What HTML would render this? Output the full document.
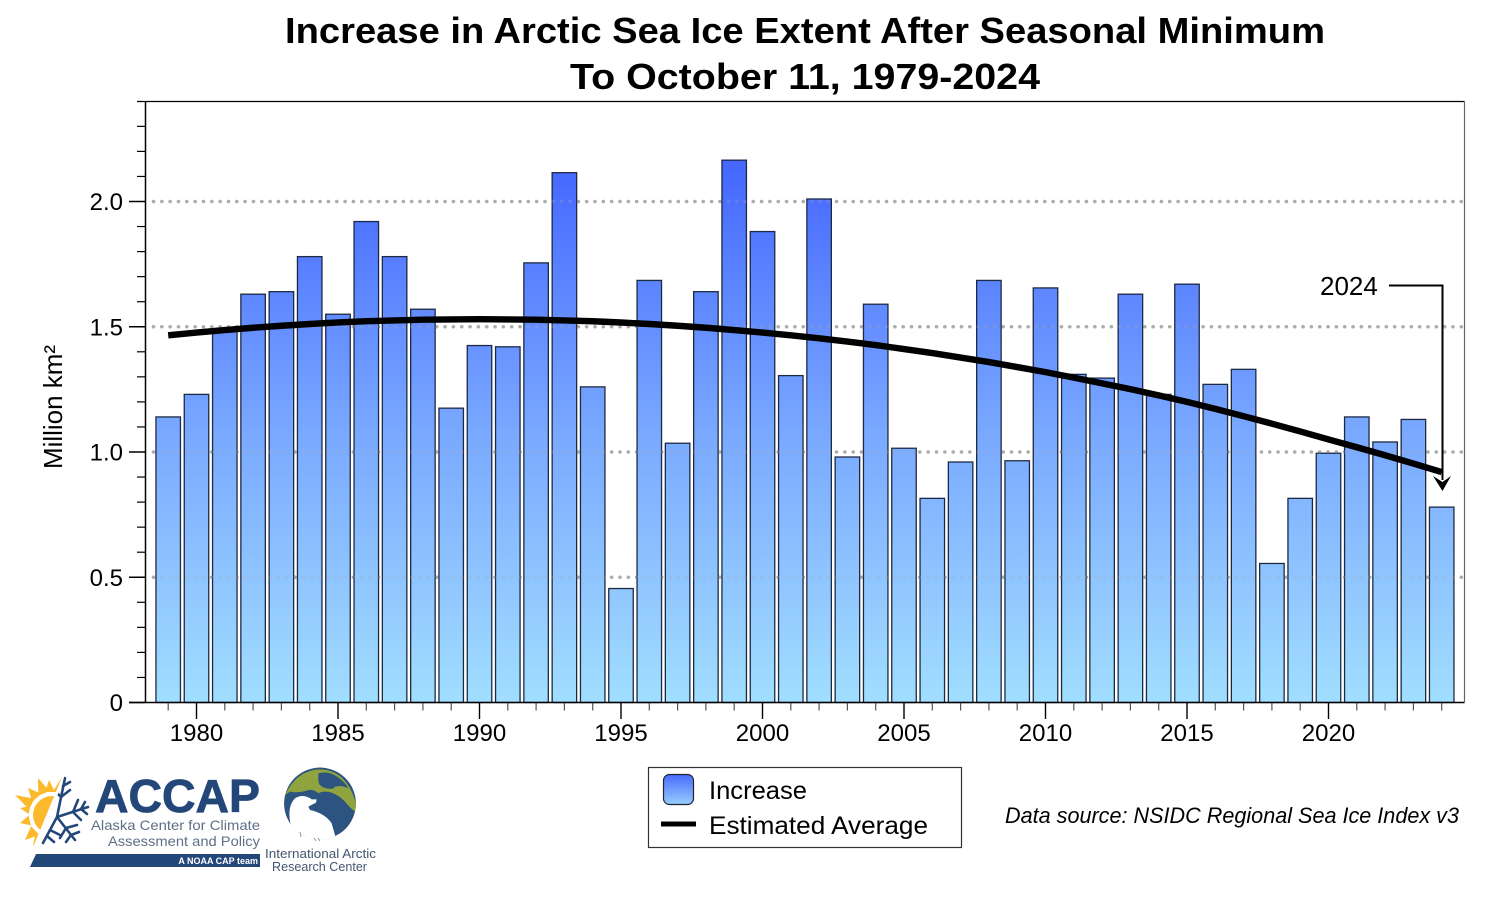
<!DOCTYPE html>
<html lang="en">
<head>
<meta charset="utf-8">
<title>Increase in Arctic Sea Ice Extent After Seasonal Minimum</title>
<style>
html,body{margin:0;padding:0;background:#fff;}
svg{display:block;font-family:"Liberation Sans",sans-serif;}
</style>
</head>
<body>
<svg id="chart" xmlns="http://www.w3.org/2000/svg" width="1500" height="900" viewBox="0 0 1500 900">
  <defs>
    <linearGradient id="barGrad" gradientUnits="userSpaceOnUse" x1="0" y1="702.5" x2="0" y2="160">
      <stop offset="0" stop-color="#a1deff"/>
      <stop offset="0.5" stop-color="#79a8ff"/>
      <stop offset="1" stop-color="#4466ff"/>
    </linearGradient>
    <linearGradient id="swatchGrad" x1="0" y1="0" x2="0" y2="1">
      <stop offset="0" stop-color="#4a6cfb"/>
      <stop offset="1" stop-color="#96cdfd"/>
    </linearGradient>
    <clipPath id="globeClip"><circle cx="320" cy="803.5" r="36"/></clipPath>
    <clipPath id="sunClip"><polygon points="5,770 62,777 34,845 5,855"/></clipPath>
    <clipPath id="snowClip"><polygon points="65,775 100,775 100,850 37,850"/></clipPath>
  </defs>

  <text x="805" y="43" text-anchor="middle" font-size="36" font-weight="bold" textLength="1040" lengthAdjust="spacingAndGlyphs">Increase in Arctic Sea Ice Extent After Seasonal Minimum</text>
  <text x="805" y="89" text-anchor="middle" font-size="36" font-weight="bold" textLength="470" lengthAdjust="spacingAndGlyphs">To October 11, 1979-2024</text>

  <g id="plot"></g>

  <text transform="translate(62,407) rotate(-90)" text-anchor="middle" font-size="26" textLength="124" lengthAdjust="spacingAndGlyphs">Million km²</text>

  <g>
    <text x="1320" y="295" font-size="26">2024</text>
    <path d="M1389 285.5H1442.5V480" fill="none" stroke="#000" stroke-width="2"/>
    <path d="M1433 476L1442.5 482L1451 476L1442.5 491Z" fill="#000"/>
  </g>

  <g>
    <rect x="648.5" y="767.5" width="313" height="80" fill="#fff" stroke="#333" stroke-width="1.2"/>
    <rect x="663.5" y="774.5" width="30" height="30" rx="6" fill="url(#swatchGrad)" stroke="#223" stroke-width="1.2"/>
    <text x="709" y="799" font-size="25" textLength="98" lengthAdjust="spacingAndGlyphs">Increase</text>
    <rect x="661" y="821.5" width="35" height="5" fill="#000"/>
    <text x="709" y="834" font-size="25" textLength="219" lengthAdjust="spacingAndGlyphs">Estimated Average</text>
  </g>

  <text x="1005" y="823" font-size="22" font-style="italic" textLength="454" lengthAdjust="spacingAndGlyphs">Data source: NSIDC Regional Sea Ice Index v3</text>

  <g>
    <g clip-path="url(#sunClip)" fill="#fdb92c">
      <circle cx="52" cy="815" r="19"/>
      <path d="M34.6 798.7L15 795L29 809.3Z M30.4 806L20 808L28.6 814Z M30.9 825.4L20 823L28.5 815.6Z M39.3 835L25 840L31.1 826.2Z M44.3 837.2L33 846L35.8 832Z M41.3 793.8L28 788L32.3 801.8Z M49.6 791.3L38 778L38.4 795.5Z M55 792L49 780L45 792Z M62.6 794L62 777L53 791.4Z"/>
    </g>
    <g clip-path="url(#snowClip)" fill="none" stroke="#24477a" stroke-width="2.6" stroke-linecap="round">
      <path d="M57 817L65 778 M57 817L88 807 M57 817L75 840 M57 817L43 843"/>
      <path d="M61 797L70 790 M61 797L54 790 M63 786L70 782 M73 812L78 800 M73 812L81 820 M81 809L85 802 M81 809L87 814 M66 828L77 825 M66 828L60 838 M71 835L79 832 M71 835L66 842 M50 830L60 835 M47 836L54 842"/>
    </g>
    <text x="95" y="812" font-size="46" font-weight="bold" fill="#24477a" stroke="#24477a" stroke-width="0.8" textLength="165" lengthAdjust="spacingAndGlyphs">ACCAP</text>
    <text x="91" y="830" font-size="14" fill="#5f6f85" textLength="169" lengthAdjust="spacingAndGlyphs">Alaska Center for Climate</text>
    <text x="108" y="846" font-size="14" fill="#5f6f85" textLength="152" lengthAdjust="spacingAndGlyphs">Assessment and Policy</text>
    <polygon points="30,867 36,854 260,854 260,867" fill="#24477a"/>
    <text x="258" y="864" font-size="9" font-weight="bold" fill="#fff" text-anchor="end">A NOAA CAP team</text>
  </g>

  <g>
    <g clip-path="url(#globeClip)">
      <circle cx="320" cy="803.5" r="36" fill="#2d5480"/>
      <g transform="translate(270,760) scale(0.3333)">
        <path d="M45 105Q80 30 150 28Q230 30 258 130L256 155Q240 145 225 125Q205 105 190 100Q165 90 145 100Q130 85 110 92Q80 100 60 95Z" fill="#8fa33f"/>
        <path d="M145 40Q185 28 225 70L235 85Q215 75 195 80Q190 90 170 85Q145 80 145 60Z" fill="#2d5480"/>
        <path d="M62 195Q50 140 75 115Q100 100 125 118L140 118L138 128L115 140L120 150Q165 160 185 190L198 236L130 270L50 240Z" fill="#fff"/>
      </g>
    </g>
    <path d="M300 832L301 837 M314 838L316 841 M318 838L320 841" fill="none" stroke="#999" stroke-width="1"/>
    <text x="265" y="858" font-size="12.5" fill="#44566e" textLength="111" lengthAdjust="spacingAndGlyphs">International Arctic</text>
    <text x="272" y="871" font-size="12.5" fill="#44566e" textLength="95" lengthAdjust="spacingAndGlyphs">Research Center</text>
  </g>
</svg>
<script>
const years = [1979,1980,1981,1982,1983,1984,1985,1986,1987,1988,1989,1990,1991,1992,1993,1994,1995,1996,1997,1998,1999,2000,2001,2002,2003,2004,2005,2006,2007,2008,2009,2010,2011,2012,2013,2014,2015,2016,2017,2018,2019,2020,2021,2022,2023,2024];
const increaseValues = [1.14,1.23,1.49,1.63,1.64,1.78,1.55,1.92,1.78,1.57,1.175,1.425,1.42,1.755,2.115,1.26,0.455,1.685,1.035,1.64,2.165,1.88,1.305,2.01,0.98,1.59,1.015,0.815,0.96,1.685,0.965,1.655,1.31,1.295,1.63,1.23,1.67,1.27,1.33,0.555,0.815,0.995,1.14,1.04,1.13,0.78];
const averageValues = [1.466,1.477,1.487,1.496,1.504,1.511,1.517,1.522,1.525,1.528,1.529,1.53,1.529,1.528,1.525,1.522,1.517,1.511,1.504,1.496,1.487,1.477,1.466,1.454,1.441,1.427,1.411,1.395,1.377,1.359,1.339,1.319,1.297,1.274,1.251,1.226,1.2,1.172,1.143,1.113,1.082,1.05,1.019,0.987,0.954,0.92];
const yTickLabels = ["0","0.5","1.0","1.5","2.0"];
const yTickValues = [0,0.5,1,1.5,2];
const yMinorValues = [0.1,0.2,0.3,0.4,0.6,0.7,0.8,0.9,1.1,1.2,1.3,1.4,1.6,1.7,1.8,1.9,2.1,2.2,2.3];
const xTickYears = [1980,1985,1990,1995,2000,2005,2010,2015,2020];

const NS = "http://www.w3.org/2000/svg";
const plot = document.getElementById("plot");
const PLOT_LEFT = 145.5, PLOT_RIGHT = 1464.5, PLOT_TOP = 101.5, PLOT_BOTTOM = 702.5;
const xScale = function (year) { return 196.5 + (year - 1980) * 28.3; };
const yScale = function (value) { return PLOT_BOTTOM - value * 250.5; };
const BAR_WIDTH = 24.5;

function mk(tag, attrs, text) {
  const el = document.createElementNS(NS, tag);
  for (const k in attrs) { el.setAttribute(k, attrs[k]); }
  if (text !== undefined) { el.textContent = text; }
  plot.appendChild(el);
  return el;
}

yTickValues.forEach(function (value, i) {
  if (value > 0) {
    const grid = mk("line", {
      x1: PLOT_LEFT + 8, x2: PLOT_RIGHT, y1: yScale(value), y2: yScale(value),
      stroke: "#adadad", "stroke-width": 3.6, "stroke-dasharray": "0 8.33", "stroke-linecap": "round"
    });
    
    
  }
});

years.forEach(function (year, i) {
  const top = yScale(increaseValues[i]);
  const bar = mk("rect", {
    x: xScale(year) - BAR_WIDTH / 2, y: top, width: BAR_WIDTH, height: PLOT_BOTTOM - top,
    fill: "url(#barGrad)", stroke: "#1d2a44", "stroke-width": 1.3
  });
  
  
});

yTickValues.forEach(function (value, i) {
  if (value > 0) {
    const overlay = mk("line", {
      x1: PLOT_LEFT + 8, x2: PLOT_RIGHT, y1: yScale(value), y2: yScale(value),
      stroke: "#adadad", "stroke-opacity": 0.25, "stroke-width": 3.6, "stroke-dasharray": "0 8.33", "stroke-linecap": "round"
    });
    
    
  }
  const tick = mk("line", { x1: 129, x2: PLOT_LEFT, y1: yScale(value), y2: yScale(value), stroke: "#000", "stroke-width": 1.5 });
  
  
  const label = mk("text", { x: 123, y: yScale(value) + 8.5, "text-anchor": "end", "font-size": 24 }, yTickLabels[i]);
  
  
});

yMinorValues.forEach(function (value) {
  const tick = mk("line", { x1: 137, x2: PLOT_LEFT, y1: yScale(value), y2: yScale(value), stroke: "#000", "stroke-width": 1.2 });
  
  
});

years.forEach(function (year) {
  if (xTickYears.indexOf(year) === -1) {
    const tick = mk("line", { x1: xScale(year), x2: xScale(year), y1: PLOT_BOTTOM, y2: 710.5, stroke: "#555", "stroke-width": 1.2 });
    
    
  }
});

xTickYears.forEach(function (year) {
  const tick = mk("line", { x1: xScale(year), x2: xScale(year), y1: PLOT_BOTTOM, y2: 719, stroke: "#000", "stroke-width": 1.4 });
  
  
  const label = mk("text", { x: xScale(year), y: 741, "text-anchor": "middle", "font-size": 24 }, String(year));
  
  
});

const axisLeft = mk("line", { x1: PLOT_LEFT, x2: PLOT_LEFT, y1: PLOT_TOP, y2: PLOT_BOTTOM, stroke: "#000", "stroke-width": 1.5 });


const axisBottom = mk("line", { x1: 129, x2: PLOT_RIGHT, y1: PLOT_BOTTOM, y2: PLOT_BOTTOM, stroke: "#000", "stroke-width": 1.5 });


const axisTop = mk("line", { x1: 137, x2: PLOT_RIGHT, y1: PLOT_TOP, y2: PLOT_TOP, stroke: "#000", "stroke-width": 1.2 });


const axisRight = mk("line", { x1: PLOT_RIGHT, x2: PLOT_RIGHT, y1: PLOT_TOP, y2: PLOT_BOTTOM, stroke: "#666", "stroke-width": 1.2 });



const avgPoints = years.map(function (year, i) { return xScale(year) + "," + yScale(averageValues[i]); }).join(" ");
const avgLine = mk("polyline", { points: avgPoints, fill: "none", stroke: "#000", "stroke-width": 6.4, "stroke-linejoin": "round" });


</script>
</body>
</html>
